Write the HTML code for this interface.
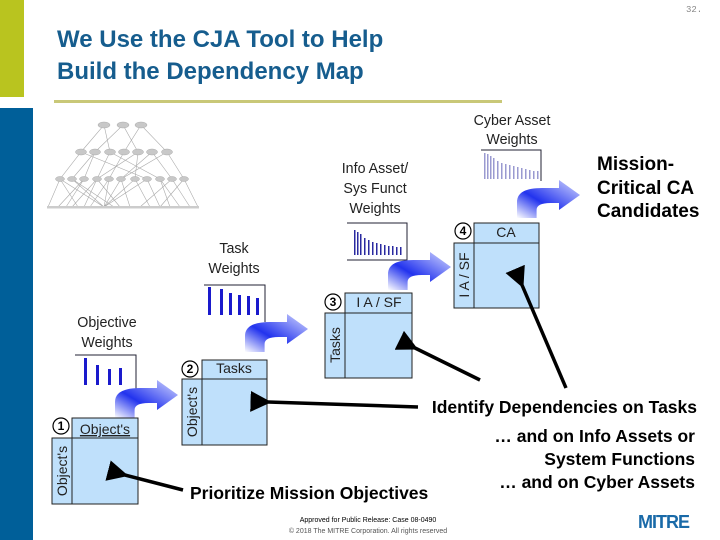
<!DOCTYPE html>
<html><head><meta charset="utf-8"><style>
body{margin:0;width:720px;height:540px;overflow:hidden;background:#fff;font-family:"Liberation Sans",Arial,sans-serif;position:relative}
.a{position:absolute;white-space:nowrap}
.t{font-size:24px;font-weight:bold;color:#165d8e;left:57px}
.l{font-size:15px;color:#222;text-align:center;line-height:20px;transform:scaleX(0.95)}
.b{font-weight:bold;color:#000}
</style></head><body>
<div class="a" style="left:0;top:0;width:24px;height:97px;background:#b9c41f"></div>
<div class="a" style="left:0;top:108px;width:33px;height:432px;background:#005f99"></div>
<div class="a" style="left:54px;top:100px;width:448px;height:3px;background:#c9c878"></div>
<div class="a" style="left:686px;top:5px;font-size:9px;color:#888;font-family:'Liberation Mono',monospace">32.</div>
<div class="a t" style="top:26px">We Use the CJA Tool to Help</div>
<div class="a t" style="top:58px">Build the Dependency Map</div>

<svg class="a" style="left:0;top:0" width="720" height="540">
<defs>
<linearGradient id="g" x1="0" y1="1" x2="1" y2="0">
<stop offset="0" stop-color="#fff"/><stop offset="0.4" stop-color="#2233ee"/><stop offset="1" stop-color="#d8dcff"/></linearGradient>
<marker id="m" markerWidth="6" markerHeight="6" refX="1" refY="3" orient="auto"><path d="M6,0 L0,3 L6,6 Z" fill="#000"/></marker>
</defs>
<g stroke="#aaa" stroke-width="0.6" fill="none">
<path d="M104,125 L81,152 L60,179 L48,207 M104,125 L110,152 L97,179 L84,207 M123,125 L138,152 L135,179 L104,207 M141,125 L167,152 L184,179 L198,207 M123,125 L95,152 L72,179 L104,207 M141,125 L124,152 L109,179 L104,207 L121,179 L152,152 L172,179 L190,207 M81,152 L147,179 L160,207 M95,152 L84,179 L66,207 M110,152 L160,179 L180,207 M138,152 L97,179 L72,207 M167,152 L121,179 L130,207 M60,179 L104,207 L147,179 M84,179 L58,207 M135,179 L150,207 M172,179 L140,207 M160,179 L170,207 M109,179 L90,207 M72,179 L114,207 M97,179 L120,207 M184,179 L160,207 M60,179 L78,207"/>
</g>
<g fill="#c8c8c8" stroke="#aaa" stroke-width="0.5">
<ellipse cx="104" cy="125" rx="6" ry="3"/><ellipse cx="123" cy="125" rx="6" ry="3"/><ellipse cx="141" cy="125" rx="6" ry="3"/>
<ellipse cx="81" cy="152" rx="5.5" ry="3"/><ellipse cx="95" cy="152" rx="5.5" ry="3"/><ellipse cx="110" cy="152" rx="5.5" ry="3"/><ellipse cx="124" cy="152" rx="5.5" ry="3"/><ellipse cx="138" cy="152" rx="5.5" ry="3"/><ellipse cx="152" cy="152" rx="5.5" ry="3"/><ellipse cx="167" cy="152" rx="5.5" ry="3"/>
<ellipse cx="60" cy="179" rx="4.5" ry="2.5"/><ellipse cx="72" cy="179" rx="4.5" ry="2.5"/><ellipse cx="84" cy="179" rx="4.5" ry="2.5"/><ellipse cx="97" cy="179" rx="4.5" ry="2.5"/><ellipse cx="109" cy="179" rx="4.5" ry="2.5"/><ellipse cx="121" cy="179" rx="4.5" ry="2.5"/><ellipse cx="135" cy="179" rx="4.5" ry="2.5"/><ellipse cx="147" cy="179" rx="4.5" ry="2.5"/><ellipse cx="160" cy="179" rx="4.5" ry="2.5"/><ellipse cx="172" cy="179" rx="4.5" ry="2.5"/><ellipse cx="184" cy="179" rx="4.5" ry="2.5"/>
</g>
<g fill="#ccc"><rect x="47" y="206" width="152" height="2.5"/></g>

<g fill="none" stroke="#223" stroke-width="1">
<path d="M75,355 H136 V392"/><path d="M204,285 H265 V322"/><path d="M347,223 H407 V260 H347"/><path d="M481,150 H541 V181"/>
</g>
<g fill="#1a1acc">
<rect x="84" y="358" width="3" height="27"/><rect x="96" y="365" width="3" height="20"/><rect x="108" y="369" width="3" height="16"/><rect x="119" y="368" width="3" height="17"/>
<rect x="208" y="287" width="3" height="28"/><rect x="220" y="289" width="3" height="26"/><rect x="229" y="293" width="3" height="22"/><rect x="238" y="295" width="3" height="20"/><rect x="247" y="296" width="3" height="19"/><rect x="256" y="298" width="3" height="17"/>
</g>
<g fill="#2a2aa0">
<rect x="354" y="230" width="1.5" height="25"/><rect x="357" y="232" width="1.5" height="23"/><rect x="360" y="234" width="1.5" height="21"/><rect x="364" y="238" width="1.5" height="17"/><rect x="368" y="240" width="1.5" height="15"/><rect x="372" y="242" width="1.5" height="13"/><rect x="376" y="243" width="1.5" height="12"/><rect x="380" y="244" width="1.5" height="11"/><rect x="384" y="245" width="1.5" height="10"/><rect x="388" y="246" width="1.5" height="9"/><rect x="392" y="246" width="1.5" height="9"/><rect x="396" y="247" width="1.5" height="8"/><rect x="400" y="247" width="1.5" height="8"/>
</g>
<g fill="#9a9ad0">
<rect x="484" y="153" width="1.5" height="26"/><rect x="487" y="154" width="1.5" height="25"/><rect x="490" y="156" width="1.5" height="23"/><rect x="493" y="158" width="1.5" height="21"/><rect x="497" y="161" width="1.5" height="18"/><rect x="501" y="163" width="1.5" height="16"/><rect x="505" y="164" width="1.5" height="15"/><rect x="509" y="165" width="1.5" height="14"/><rect x="513" y="166" width="1.5" height="13"/><rect x="517" y="167" width="1.5" height="12"/><rect x="521" y="168" width="1.5" height="11"/><rect x="525" y="169" width="1.5" height="10"/><rect x="529" y="170" width="1.5" height="9"/><rect x="533" y="171" width="1.5" height="8"/><rect x="537" y="171" width="1.5" height="8"/>
</g>

<g fill="url(#g)">
<path transform="translate(115,418) scale(1.4,1)" d="M0,0 L0,-16 Q0,-30 18,-30 L30,-30 L30,-38 L45,-23 L30,-8 L30,-15 L24,-15 Q14,-15 14,-8 L14,0 Z"/>
<path transform="translate(245,352) scale(1.4,1)" d="M0,0 L0,-16 Q0,-30 18,-30 L30,-30 L30,-38 L45,-23 L30,-8 L30,-15 L24,-15 Q14,-15 14,-8 L14,0 Z"/>
<path transform="translate(388,290) scale(1.4,1)" d="M0,0 L0,-16 Q0,-30 18,-30 L30,-30 L30,-38 L45,-23 L30,-8 L30,-15 L24,-15 Q14,-15 14,-8 L14,0 Z"/>
<path transform="translate(517,218) scale(1.4,1)" d="M0,0 L0,-16 Q0,-30 18,-30 L30,-30 L30,-38 L45,-23 L30,-8 L30,-15 L24,-15 Q14,-15 14,-8 L14,0 Z"/>
</g>

<g fill="#bfe0fb" stroke="#222" stroke-width="1">
<rect x="72" y="418" width="66" height="20"/><rect x="52" y="438" width="20" height="66"/><rect x="72" y="438" width="66" height="66"/>
<rect x="202" y="360" width="65" height="19"/><rect x="182" y="379" width="20" height="66"/><rect x="202" y="379" width="65" height="66"/>
<rect x="345" y="293" width="67" height="20"/><rect x="325" y="313" width="20" height="65"/><rect x="345" y="313" width="67" height="65"/>
<rect x="474" y="223" width="65" height="20"/><rect x="454" y="243" width="20" height="65"/><rect x="474" y="243" width="65" height="65"/>
</g>
<g fill="#fff" stroke="#000" stroke-width="1.2">
<circle cx="61" cy="426" r="8"/><circle cx="190" cy="369" r="8"/><circle cx="333" cy="302" r="8"/><circle cx="463" cy="231" r="8"/>
</g>
<g font-family="Liberation Sans" font-weight="bold" font-size="12" text-anchor="middle">
<text x="61" y="430">1</text><text x="190" y="373">2</text><text x="333" y="306">3</text><text x="463" y="235">4</text>
</g>
<g font-family="Liberation Sans" font-size="14" fill="#222" text-anchor="middle">
<text x="105" y="434" text-decoration="underline">Object's</text><text x="234" y="373">Tasks</text><text x="379" y="307">I A / SF</text><text x="506" y="237">CA</text>
<text transform="translate(67,471) rotate(-90)">Object's</text>
<text transform="translate(197,412) rotate(-90)">Object's</text>
<text transform="translate(340,345) rotate(-90)">Tasks</text>
<text transform="translate(469,275) rotate(-90)">I A / SF</text>
</g>

<g stroke="#000" stroke-width="3.5" marker-end="url(#m)">
<line x1="183" y1="490" x2="125" y2="475"/>
<line x1="418" y1="407" x2="268" y2="402"/>
<line x1="480" y1="380" x2="415" y2="348"/>
<line x1="566" y1="388" x2="522" y2="285"/>
</g>
</svg>

<div class="a l" style="left:57px;top:313px;width:100px">Objective<br>Weights</div>
<div class="a l" style="left:184px;top:239px;width:100px">Task<br>Weights</div>
<div class="a l" style="left:315px;top:159px;width:120px">Info Asset/<br>Sys Funct<br>Weights</div>
<div class="a l" style="left:452px;top:111px;width:120px;line-height:19px">Cyber Asset<br>Weights</div>

<div class="a b" style="left:597px;top:153px;font-size:19px;line-height:23.5px">Mission-<br>Critical CA<br>Candidates</div>
<div class="a b" style="right:23px;top:397px;font-size:17.5px">Identify Dependencies on Tasks</div>
<div class="a b" style="right:25px;top:425px;font-size:17.5px;text-align:right;line-height:23px">… and on Info Assets or<br>System Functions<br>… and on Cyber Assets</div>
<div class="a b" style="left:190px;top:483px;font-size:17.5px">Prioritize Mission Objectives</div>
<div class="a" style="left:268px;top:515px;width:200px;text-align:center;font-size:7px;color:#000;line-height:11px">Approved for Public Release: Case 08-0490<br><span style="color:#555">© 2018 The MITRE Corporation. All rights reserved</span></div>
<div class="a" style="left:638px;top:512px;font-size:18px;font-weight:bold;color:#1a6aa8;letter-spacing:-1px">MITRE</div>
</body></html>
